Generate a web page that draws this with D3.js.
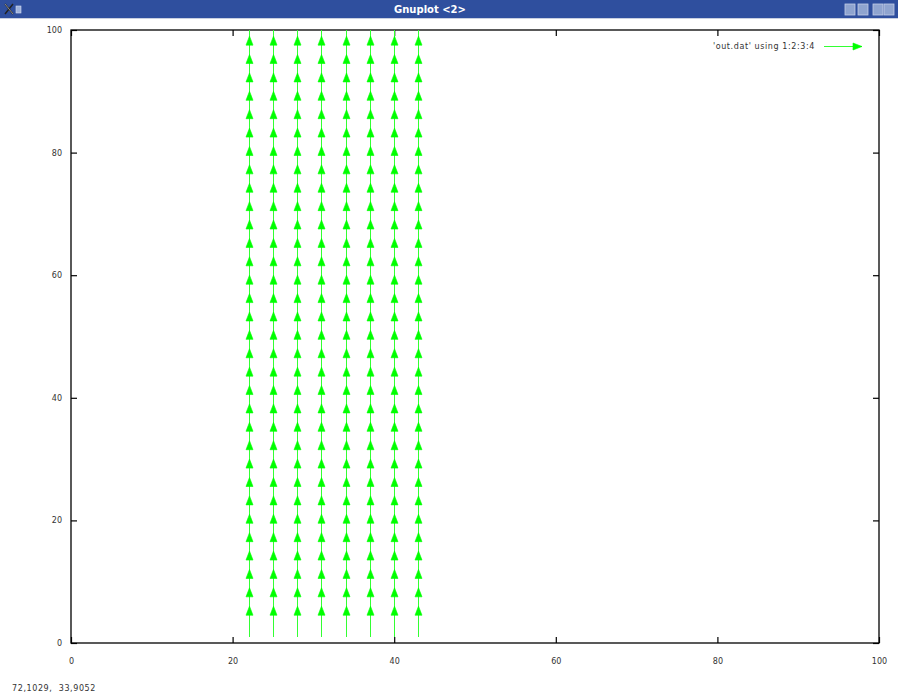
<!DOCTYPE html>
<html>
<head>
<meta charset="utf-8">
<script src="https://cdn.jsdelivr.net/npm/d3@7"></script>
<style>
  html, body { margin: 0; padding: 0; background: #fff; }
  svg { display: block; }
</style>
</head>
<body>
<svg id="chart" width="898" height="695"></svg>
<script>
// ---- data ----
const columnX = [22, 25, 28, 31, 34, 37, 40, 43];
const startY = [1, 4, 7, 10, 13, 16, 19, 22, 25, 28, 31, 34, 37, 40, 43, 46, 49,
                52, 55, 58, 61, 64, 67, 70, 73, 76, 79, 82, 85, 88, 91, 94, 97];
const deltaX = 0;
const deltaY = 5;
const xTicks = [0, 20, 40, 60, 80, 100];
const yTicks = [0, 20, 40, 60, 80, 100];
const legendLabel = "'out.dat' using 1:2:3:4";
const windowTitle = "Gnuplot <2>";
const statusText = "72,1029,  33,9052";

const svg = d3.select("#chart");
const W = 898, H = 695;
const L = 71, R = 879, T = 30, B = 643;
const green = "#00ff00";

const x = d3.scaleLinear().domain([0, 100]).range([L, R]);
const y = d3.scaleLinear().domain([0, 100]).range([B, T]);

// ---- window title bar ----
svg.append("rect").attr("x", 0).attr("y", 0).attr("width", W).attr("height", 18).attr("fill", "#2f4f9e");
svg.append("line").attr("x1", 0).attr("x2", W).attr("y1", 18.5).attr("y2", 18.5).attr("stroke", "#c8cfe0");
svg.append("text").attr("x", 430).attr("y", 13).attr("text-anchor", "middle")
  .attr("font-family", "DejaVu Sans, sans-serif").attr("font-size", 10).attr("font-weight", "bold")
  .attr("fill", "#ffffff").text(windowTitle);
// left icons
svg.append("path").attr("d", "M5,4 L13,14 M13,4 L5,14").attr("stroke", "#222").attr("stroke-width", 1.5);
svg.append("path").attr("d", "M5,4 L13,14").attr("stroke", "#bbb").attr("stroke-width", 0.7);
svg.append("rect").attr("x", 16).attr("y", 6).attr("width", 5).attr("height", 7).attr("fill", "#9fb3dc").attr("stroke", "#d5def0").attr("stroke-width", 0.6);
// right icons
[845, 858, 873, 884].forEach(ix => {
  svg.append("rect").attr("x", ix).attr("y", 4).attr("width", 10).attr("height", 11)
    .attr("fill", "#8fa4cf").attr("stroke", "#c2cde6").attr("stroke-width", 0.8);
});

// ---- plot frame ----
const g = svg.append("g");
g.append("rect").attr("x", L).attr("y", T).attr("width", R - L).attr("height", B - T)
  .attr("fill", "none").attr("stroke", "#000").attr("stroke-width", 1.3);

const tickLen = 6;
const fmt = d3.format("d");
const axisFont = "DejaVu Sans, sans-serif";

const bottomAxis = d3.axisBottom(x).tickValues(xTicks).tickFormat(fmt)
  .tickSizeInner(-tickLen).tickSizeOuter(0).tickPadding(15);
const leftAxis = d3.axisLeft(y).tickValues(yTicks).tickFormat(fmt)
  .tickSizeInner(-tickLen).tickSizeOuter(0).tickPadding(9);
const topAxis = d3.axisTop(x).tickValues(xTicks).tickFormat("")
  .tickSizeInner(-tickLen).tickSizeOuter(0);
const rightAxis = d3.axisRight(y).tickValues(yTicks).tickFormat("")
  .tickSizeInner(-tickLen).tickSizeOuter(0);

function styleAxis(sel) {
  sel.select(".domain").remove();
  sel.selectAll(".tick line").attr("stroke", "#000").attr("stroke-width", 1.2);
  sel.selectAll(".tick text").attr("font-family", axisFont).attr("font-size", 8).attr("fill", "#333");
}
g.append("g").attr("transform", `translate(0,${B})`).call(bottomAxis).call(styleAxis);
g.append("g").attr("transform", `translate(${L},0)`).call(leftAxis).call(styleAxis);
g.append("g").attr("transform", `translate(0,${T})`).call(topAxis).call(styleAxis);
g.append("g").attr("transform", `translate(${R},0)`).call(rightAxis).call(styleAxis);

// ---- arrows ----
svg.append("clipPath").attr("id", "plotclip").append("rect")
  .attr("x", L).attr("y", T).attr("width", R - L).attr("height", B - T);

const arrows = [];
columnX.forEach(cx => startY.forEach(sy => arrows.push({ x0: cx, y0: sy, x1: cx + deltaX, y1: sy + deltaY })));

const headLen = 9, headHalf = 3.5;
function headPath(px0, py0, px1, py1) {
  const dx = px1 - px0, dy = py1 - py0;
  const len = Math.hypot(dx, dy) || 1;
  const ux = dx / len, uy = dy / len;
  const bx = px1 - ux * headLen, by = py1 - uy * headLen;
  const nx = -uy, ny = ux;
  return `M${px1},${py1} L${bx + nx * headHalf},${by + ny * headHalf} L${bx - nx * headHalf},${by - ny * headHalf} Z`;
}
const px = v => Math.round(x(v)) + 0.5;

const ag = svg.append("g").attr("clip-path", "url(#plotclip)");
ag.selectAll("line.shaft").data(arrows).join("line").attr("class", "shaft")
  .attr("x1", d => px(d.x0)).attr("y1", d => y(d.y0))
  .attr("x2", d => px(d.x1)).attr("y2", d => y(d.y1))
  .attr("stroke", "#33ff33").attr("stroke-width", 1).attr("shape-rendering", "crispEdges");
ag.selectAll("path.head").data(arrows).join("path").attr("class", "head")
  .attr("d", d => headPath(px(d.x0), y(d.y0), px(d.x1), y(d.y1)))
  .attr("fill", green).attr("stroke", green).attr("stroke-width", 0.6);

// ---- legend ----
const ly = 46;
svg.append("text").attr("x", 815).attr("y", ly + 3).attr("text-anchor", "end")
  .attr("font-family", axisFont).attr("font-size", 8).attr("letter-spacing", 0.6)
  .attr("fill", "#333").text(legendLabel);
svg.append("line").attr("x1", 824).attr("x2", 862).attr("y1", ly + 0.5).attr("y2", ly + 0.5)
  .attr("stroke", "#33ff33").attr("stroke-width", 1).attr("shape-rendering", "crispEdges");
svg.append("path").attr("d", headPath(824, ly + 0.5, 862, ly + 0.5)).attr("fill", green).attr("stroke", green).attr("stroke-width", 0.6);

// ---- status text ----
svg.append("text").attr("x", 12).attr("y", 691).attr("xml:space", "preserve").style("white-space", "pre")
  .attr("font-family", axisFont).attr("font-size", 8).attr("letter-spacing", 0.6)
  .attr("fill", "#333").text(statusText);
</script>
</body>
</html>
